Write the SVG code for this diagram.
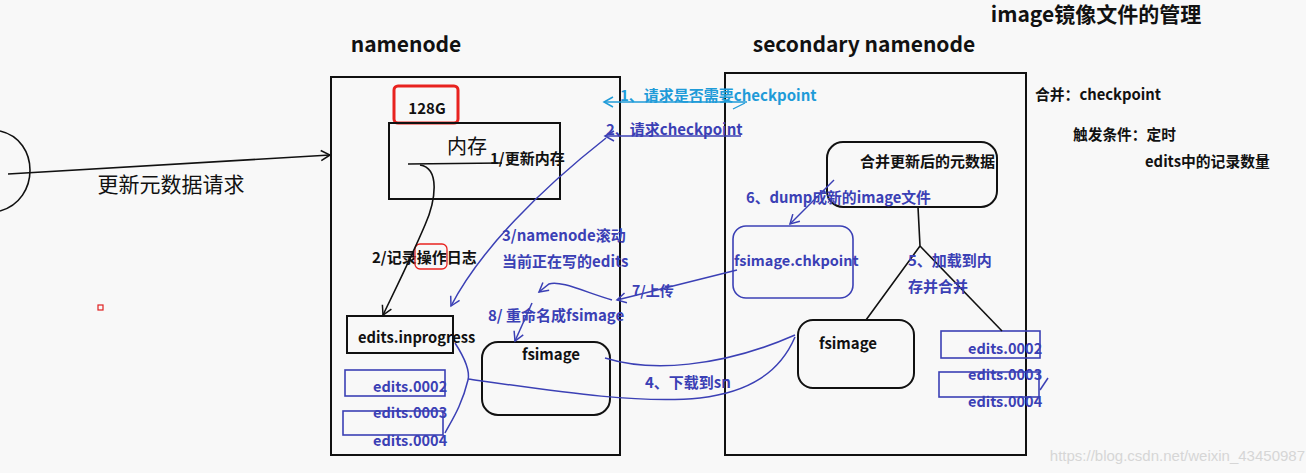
<svg xmlns="http://www.w3.org/2000/svg" width="1306" height="473" viewBox="0 0 1306 473">
<style>
text{font-family:"Noto Sans CJK SC","Noto Sans",sans-serif;font-weight:bold;dominant-baseline:central}
.t{fill:#111}
.b{fill:#3b40b5}
.lb{fill:#1f9bd8}
.box{fill:none;stroke:#111;stroke-width:2}
.bbox{fill:none;stroke:#3b40b5;stroke-width:1.6}
.bl{fill:none;stroke:#3b40b5;stroke-width:1.5}
.kl{fill:none;stroke:#111;stroke-width:1.6}
</style>
<defs>
<marker id="ab" markerWidth="12" markerHeight="12" refX="10" refY="6" orient="auto" markerUnits="userSpaceOnUse"><path d="M1,1 L10,6 L1,11" fill="none" stroke="#3b40b5" stroke-width="1.5"/></marker>
<marker id="alb" markerWidth="12" markerHeight="12" refX="10" refY="6" orient="auto" markerUnits="userSpaceOnUse"><path d="M1,1 L10,6 L1,11" fill="none" stroke="#1f9bd8" stroke-width="1.5"/></marker>
<marker id="ak" markerWidth="12" markerHeight="12" refX="10" refY="6" orient="auto" markerUnits="userSpaceOnUse"><path d="M1,1 L10,6 L1,11" fill="none" stroke="#111" stroke-width="1.5"/></marker>
</defs>
<rect width="1306" height="473" fill="#f8f8f8"/>

<!-- titles -->
<text class="t" x="406" y="43" font-size="21" text-anchor="middle">namenode</text>
<text class="t" x="864" y="43" font-size="21" text-anchor="middle">secondary namenode</text>
<text class="t" x="1096" y="13" font-size="21" text-anchor="middle">image镜像文件的管理</text>
<text class="t" x="1035" y="93" font-size="14.8">合并：checkpoint</text>
<text class="t" x="1073" y="133" font-size="14.7">触发条件：定时</text>
<text class="t" x="1145" y="160" font-size="14.8">edits中的记录数量</text>
<text x="1305" y="455" font-size="15" text-anchor="end" style="font-family:'Liberation Sans',sans-serif;font-weight:normal" fill="#d6d6d6">https://blog.csdn.net/weixin_43450987</text>

<!-- client -->
<g id="client">
<path d="M0,131 C40,140 40,200 0,211" class="kl"/>
<text class="t" x="171" y="183" font-size="21" text-anchor="middle" style="font-weight:normal">更新元数据请求</text>
</g>
<rect x="98" y="305" width="5" height="5" fill="none" stroke="#e02020" stroke-width="1.2"/>

<!-- namenode -->
<g id="namenode">
<rect x="331" y="77" width="289" height="378" class="box"/>
</g>
<g id="ram128">
<rect x="394" y="86" width="64" height="37" rx="4" fill="none" stroke="#e8231f" stroke-width="3"/>
<text class="t" x="427" y="107" font-size="15" text-anchor="middle">128G</text>
</g>
<g id="memory">
<rect x="389" y="123" width="171" height="76" class="box"/>
<text class="t" x="467" y="145" font-size="20" text-anchor="middle" style="font-weight:normal">内存</text>
<text class="t" x="490" y="157" font-size="15">1/更新内存</text>
</g>
<g id="log-label">
<text class="t" x="372" y="256" font-size="15">2/记录操作日志</text>
<rect x="415" y="244" width="32" height="25" rx="5" fill="none" stroke="#e8231f" stroke-width="1.3"/>
</g>
<g id="edits-inprogress">
<rect x="347" y="316" width="106" height="37" class="box"/>
<text class="t" x="358" y="336" font-size="14.7">edits.inprogress</text>
</g>
<g id="nn-edits">
<rect x="345" y="370" width="100" height="26" class="bbox"/>
<text class="b" x="373" y="385" font-size="14.5">edits.0002</text>
<rect x="343" y="411" width="100" height="24" class="bbox"/>
<text class="b" x="373" y="411" font-size="14.5">edits.0003</text>
<text class="b" x="373" y="439" font-size="14.5">edits.0004</text>
</g>
<g id="nn-fsimage">
<rect x="482" y="342" width="128" height="73" rx="16" class="box"/>
<text class="t" x="551" y="353" font-size="15" text-anchor="middle">fsimage</text>
</g>

<!-- secondary namenode -->
<g id="secondary">
<rect x="725" y="73" width="301" height="382" class="box"/>
</g>
<g id="merged">
<rect x="827" y="142" width="170" height="65" rx="16" class="box"/>
<text class="t" x="860" y="160" font-size="15">合并更新后的元数据</text>
</g>
<g id="chkpoint">
<rect x="733" y="226" width="120" height="72" rx="13" class="bbox"/>
<text class="b" x="734" y="259" font-size="14.5">fsimage.chkpoint</text>
</g>
<g id="sn-fsimage">
<rect x="798" y="320" width="116" height="68" rx="15" class="box"/>
<text class="t" x="848" y="342" font-size="15" text-anchor="middle">fsimage</text>
</g>
<g id="sn-edits">
<rect x="941" y="331" width="99" height="27" class="bbox"/>
<text class="b" x="968" y="347" font-size="14.5">edits.0002</text>
<rect x="939" y="372" width="100" height="25" class="bbox"/>
<text class="b" x="968" y="373" font-size="14.5">edits.0003</text>
<text class="b" x="968" y="400" font-size="14.5">edits.0004</text>
</g>

<!-- connectors -->
<g id="connectors">
<path d="M8,174 L330,155" class="kl" marker-end="url(#ak)"/>
<path d="M408,164 L502,163" class="kl"/>
<path d="M420,165 C440,168 436,200 425,225 C410,260 395,290 383,315" class="kl" marker-end="url(#ak)"/>

<path d="M747,102 L604,102" fill="none" stroke="#1f9bd8" stroke-width="1.5" marker-end="url(#alb)"/>
<path d="M733,109 L745,103" fill="none" stroke="#1f9bd8" stroke-width="1.3"/>
<path d="M741,136 L605,136" class="bl" marker-end="url(#ab)"/>

<path d="M606,138 C540,190 480,250 451,306" class="bl" marker-end="url(#ab)"/>
<path d="M455,343 C466,360 470,372 468,380 C462,405 452,420 445,433" class="bl"/>
<path d="M468,379 C560,392 640,404 700,398 C750,392 780,372 795,337" class="bl"/>
<path d="M605,358 C650,372 720,368 795,335" class="bl"/>

<path d="M737,270 L617,300" class="bl" marker-end="url(#ab)"/>
<path d="M612,300 C585,292 560,280 549,284 L539,292" class="bl" marker-end="url(#ab)"/>
<path d="M532,303 L515,341" class="bl" marker-end="url(#ab)"/>

<path d="M834,180 L790,224" class="bl" marker-end="url(#ab)"/>
<path d="M918,207 L920,246 L866,320" class="kl"/>
<path d="M920,246 L1002,331" class="kl"/>
<path d="M1040,390 L1048,378" class="bl"/>
</g>

<!-- connector labels -->
<g id="labels">
<text class="lb" x="620" y="94" font-size="15">1、请求是否需要checkpoint</text>
<text class="b" x="606" y="128" font-size="15">2、请求checkpoint</text>
<text class="b" x="502" y="234" font-size="15">3/namenode滚动</text>
<text class="b" x="502" y="260" font-size="15">当前正在写的edits</text>
<text class="b" x="645" y="381" font-size="15">4、下载到sn</text>
<text class="b" x="908" y="259" font-size="15">5、加载到内</text>
<text class="b" x="908" y="285" font-size="15">存并合并</text>
<text class="b" x="746" y="196" font-size="14.8">6、dump成新的image文件</text>
<text class="b" x="632" y="290" font-size="14">7/上传</text>
<text class="b" x="488" y="314" font-size="15">8/ 重命名成fsimage</text>
</g>
</svg>
